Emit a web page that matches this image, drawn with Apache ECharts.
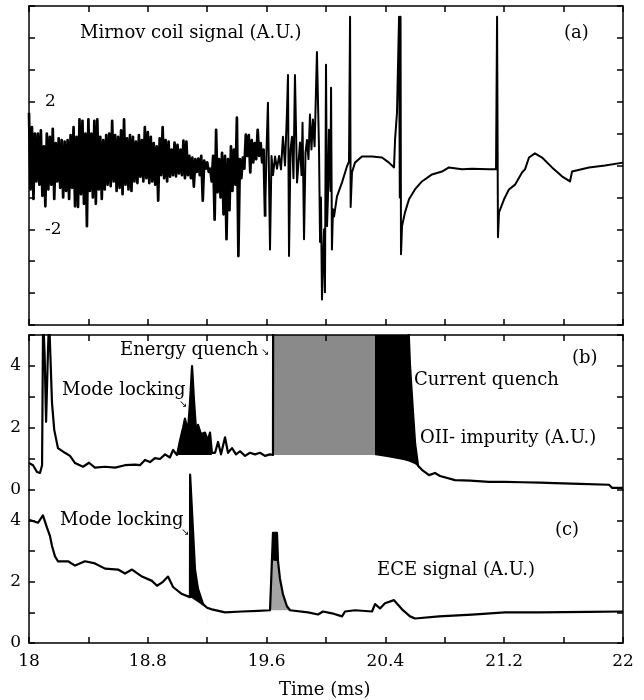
<!DOCTYPE html>
<html>
<head>
<meta charset="utf-8">
<script src="https://cdn.jsdelivr.net/npm/echarts@6/dist/echarts.min.js"></script>
<style>
html,body{margin:0;padding:0;background:#fff;}
#paint{width:644px;height:700px;}
</style>
</head>
<body>
<div id="paint"></div>
<script>
// (a) Mirnov coil: dense part sampled every 0.01 ms from 18.00 ms
var mirnovStart = 18.0;
var mirnovStep = 0.01;
var mirnovNoise = [
  1.65,-0.75,1.2,-1.05,1.0,-0.5,1.0,-0.6,1.1,-0.95,
  0.6,-1.28,1.0,-0.75,0.9,-0.6,1.15,-1.05,0.7,-0.5,
  0.85,-0.7,0.8,-1.0,0.75,-0.8,0.8,-1.05,0.95,-0.7,
  1.2,-1.28,0.9,-1.3,1.45,-0.9,1.4,-1.2,1.0,-1.9,
  1.45,-0.8,1.0,-1.0,1.4,-1.2,1.45,-0.75,0.9,-1.05,
  0.8,-0.75,0.95,-0.6,1.0,-0.65,1.4,-0.5,0.95,-0.8,
  0.9,-0.7,1.1,-0.9,1.45,-0.6,0.85,-0.75,0.95,-0.8,
  0.9,-0.5,0.75,-0.55,0.95,-0.35,0.8,-0.5,1.2,-0.4,
  1.05,-0.55,0.9,-0.5,0.7,-0.6,0.6,-1.1,0.85,-0.3,
  1.2,-0.4,0.8,-0.5,0.75,-0.35,0.5,-0.3,0.72,-0.34,
  0.65,-0.25,0.5,-0.3,0.78,-0.4,0.75,-0.3,0.3,-0.4,
  0.25,-0.66,0.2,-0.2,0.22,-0.3,0.3,-1.1,0.15,-0.1,
  0.1,-0.2,-0.1,-0.5,0.3,-1.7,1.12,-0.84,0.2,-1.0,
  0.4,-1.53,0.3,-2.31,0.2,-1.4,0.6,-0.8,0.5,-0.6,
  1.5,-2.84,0.2,-0.4,0.25,-0.1,0.97,0.3,0.95,-0.22,
  0.8,0.1,0.7,0.2,1.12,0.3,0.7,0.1,0.5,-1.6
];
// (a) spikes and relaxation, [time, value]
var mirnovTail = [
  [19.599,0.4],[19.609,1.97],[19.623,-2.63],[19.633,0.3],[19.643,-0.3],[19.657,0.28],[19.670,-0.1],
  [19.684,0.3],[19.697,-0.12],[19.710,0.9],[19.724,0.0],[19.737,1.65],[19.744,2.84],[19.751,-2.84],
  [19.761,0.5],[19.771,0.9],[19.781,-0.4],[19.791,2.84],[19.805,-0.53],[19.825,0.72],[19.835,-0.3],
  [19.842,1.34],[19.852,-2.31],[19.862,0.4],[19.872,0.8],[19.882,0.2],[19.892,1.6],[19.902,0.5],
  [19.912,1.44],[19.923,0.6],[19.929,1.65],[19.939,3.56],[19.946,3.56],[19.953,0.5],[19.960,-2.4],
  [19.966,-1.0],[19.973,-4.2],[19.980,-3.0],[19.987,-2.0],[19.993,-3.97],[20.000,3.16],[20.007,-1.9],
  [20.013,-1.0],[20.020,1.12],[20.030,-0.8],[20.034,2.44],[20.040,-2.63],[20.047,-1.37],[20.054,-1.6],
  [20.074,-0.97],[20.108,-0.53],[20.141,-0.03],[20.155,0.12],[20.162,4.66],[20.166,-1.3],[20.175,-0.22],
  [20.195,0.09],[20.242,0.28],[20.310,0.28],[20.377,0.25],[20.424,0.09],[20.458,-0.06],[20.465,0.81],
  [20.478,1.65],[20.492,4.66],[20.497,-1.0],[20.502,4.66],[20.505,-2.78],[20.512,-1.9],[20.532,-1.47],
  [20.559,-1.06],[20.599,-0.75],[20.646,-0.5],[20.714,-0.28],[20.781,-0.19],[20.828,-0.06],[20.916,-0.12],
  [20.983,-0.1],[21.098,-0.12],[21.145,-0.12],[21.152,4.66],[21.158,-2.25],[21.165,-1.47],[21.199,-1.06],
  [21.232,-0.75],[21.273,-0.6],[21.320,-0.22],[21.340,-0.12],[21.367,0.25],[21.407,0.38],[21.455,0.25],
  [21.522,-0.06],[21.589,-0.34],[21.643,-0.5],[21.657,-0.19],[21.771,-0.06],[21.879,0.0],[22.0,0.09]
];

// (b) OII impurity
var oiiTrace = [
  [18.0,0.87],[18.027,0.8],[18.054,0.58],[18.074,0.55],[18.088,0.8],[18.095,5.6],[18.105,4.4],[18.115,2.2],
  [18.125,4.0],[18.135,5.6],[18.155,2.8],[18.17,1.94],[18.195,1.35],[18.242,1.2],[18.276,1.1],[18.31,0.87],
  [18.364,0.75],[18.404,0.88],[18.444,0.72],[18.512,0.75],[18.58,0.72],[18.646,0.8],[18.714,0.82],
  [18.747,0.8],[18.781,0.97],[18.815,0.9],[18.848,1.03],[18.882,1.0],[18.916,1.15],[18.949,1.05],
  [18.97,1.29],[18.997,1.13],
  [19.017,1.6],[19.037,2.0],[19.05,2.3],[19.07,1.9],[19.084,2.8],[19.098,4.0],[19.111,2.9],[19.125,1.9],
  [19.138,2.1],[19.158,1.8],[19.185,1.85],[19.205,1.6],[19.219,1.85],[19.232,1.2],
  [19.253,1.2],[19.273,1.55],[19.293,1.15],[19.32,1.7],[19.34,1.2],[19.367,1.35],[19.394,1.15],
  [19.421,1.25],[19.455,1.1],[19.488,1.2],[19.522,1.15],[19.556,1.2],[19.589,1.1],[19.623,1.15],
  [19.643,1.13],[19.644,5.6],[20.552,5.6],[20.566,4.0],[20.586,2.5],[20.6,1.5],[20.62,0.78],
  [20.646,0.65],[20.694,0.48],[20.734,0.55],[20.768,0.45],[20.869,0.32],[20.97,0.3],[21.098,0.26],
  [21.205,0.26],[21.32,0.25],[21.44,0.24],[21.542,0.22],[21.71,0.2],[21.906,0.17],[21.926,0.07],[22.0,0.07]
];
var modeLockB = [
  [18.997,1.13],[19.017,1.6],[19.037,2.0],[19.05,2.3],[19.07,1.9],[19.084,2.8],[19.098,4.0],[19.111,2.9],
  [19.125,1.9],[19.138,2.1],[19.158,1.8],[19.185,1.85],[19.205,1.6],[19.219,1.85],[19.232,1.13]
];
var modeLockBase = 1.13;
var energyQuench = [[19.643,5.6],[20.33,5.6]];
var energyQuenchBase = 1.13;
var currentQuenchTop = [[20.33,5.6],[20.552,5.6],[20.566,4.0],[20.586,2.5],[20.6,1.5],[20.62,0.78]];
var currentQuenchLow = [[20.325,1.13],[20.42,1.06],[20.52,0.97],[20.552,0.93],[20.566,0.9],[20.586,0.86],[20.6,0.83],[20.62,0.76],[20.632,0.7]];

// (c) ECE signal
var eceTrace = [
  [18.0,4.03],[18.061,3.93],[18.094,4.17],[18.121,3.77],[18.141,3.5],[18.155,3.17],[18.175,2.83],
  [18.195,2.67],[18.263,2.67],[18.31,2.53],[18.377,2.67],[18.444,2.6],[18.512,2.43],[18.6,2.4],
  [18.646,2.27],[18.694,2.4],[18.761,2.17],[18.828,2.03],[18.862,1.87],[18.902,2.0],[18.936,2.17],
  [18.97,1.83],[19.03,1.6],[19.084,1.5],[19.085,5.5],[19.098,5.5],[19.118,2.4],[19.138,1.77],
  [19.172,1.27],[19.199,1.15],[19.232,1.1],[19.32,1.0],[19.434,1.03],[19.542,1.05],[19.623,1.07],
  [19.643,3.6],[19.67,3.6],[19.677,2.67],[19.69,2.1],[19.71,1.6],[19.737,1.2],[19.758,1.07],
  [19.879,1.0],[19.946,0.93],[19.98,1.03],[20.04,0.97],[20.108,0.87],[20.128,1.03],[20.195,1.07],
  [20.31,1.03],[20.33,1.27],[20.364,1.13],[20.397,1.3],[20.458,1.4],[20.512,1.1],[20.566,0.87],
  [20.6,0.8],[20.761,0.87],[20.983,0.93],[21.205,1.0],[21.434,1.0],[21.771,1.02],[22.0,1.03]
];
var eceSpikeTop = [[19.084,1.5],[19.085,5.5],[19.098,5.5],[19.118,2.4],[19.138,1.77],[19.172,1.27],[19.199,1.15]];
var eceSpikeLow = [[19.08,1.5],[19.098,1.46],[19.118,1.4],[19.138,1.33],[19.172,1.22],[19.199,1.14],[19.21,1.1]];
var eceSpike2 = [[19.623,1.07],[19.643,3.6],[19.67,3.6],[19.677,2.67],[19.69,2.1],[19.71,1.6],[19.737,1.2],[19.758,1.07]];
var eceSpike2Base = 1.07;
var eceSpike2Cap = [[19.636,2.7],[19.643,3.6],[19.67,3.6],[19.677,2.67]];
var eceSpike2CapBase = 2.7;

var FONT = 'DejaVu Serif';

$paint();

function $paint(){
    var chart = echarts.init(document.getElementById('paint'), null, {renderer:'canvas'});

    var noise = [];
    for(var i=0;i<mirnovNoise.length;i++){
        noise.push([+(mirnovStart + i*mirnovStep).toFixed(3), mirnovNoise[i]]);
    }
    var tail = [noise[noise.length-1]].concat(mirnovTail);

    var option = {
        animation:false,
        backgroundColor:'#fff',
        grid:[
            {left:29, top:6, width:594, height:319},
            {left:29, top:335, width:594, height:155},
            {left:29, top:490, width:594, height:153}
        ],
        xAxis:[
            xAxis(0,'bottom',false,true),
            xAxis(0,'top',false,true),
            xAxis(1,'top',false,true),
            xAxis(2,'bottom',true,true)
        ],
        yAxis:[
            yAxis(0,'left',-5,5,function(v){ return (v==2||v==-2) ? String(v) : ''; },true),
            yAxis(0,'right',-5,5,null),
            yAxis(1,'left',0,5,function(v){ return (v%2==0 && v<5) ? String(v) : ''; },false),
            yAxis(1,'right',0,5,null),
            yAxis(2,'left',0,5,function(v){ return (v%2==0 && v<5) ? String(v) : ''; },false),
            yAxis(2,'right',0,5,null)
        ],
        series:[
            line(noise,0,0,{width:2.7}),
            line(tail,0,0,{width:2}),

            area(energyQuench,2,2,'#8a8a8a',energyQuenchBase),
            area(currentQuenchTop,2,2,'#000','start'),
            area(currentQuenchLow,2,2,'#fff','start'),
            area(modeLockB,2,2,'#000',modeLockBase),
            line(oiiTrace,2,2,{width:2.2}),

            area(eceSpikeTop,3,4,'#000','start',true),
            area(eceSpikeLow,3,4,'#fff','start'),
            area(eceSpike2,3,4,'#a4a4a4',eceSpike2Base),
            area(eceSpike2Cap,3,4,'#000',eceSpike2CapBase),
            line(eceTrace,3,4,{width:2.2,clip:false})
        ],
        graphic:[
            label('Mirnov coil signal (A.U.)',80,33,18),
            label('(a)',564,33,18),
            label('Energy quench',120,350,18),
            arrow(261,352),
            label('Mode locking',62,390,18),
            arrow(179,404),
            label('(b)',572,358,18),
            label('Current quench',414,380,18),
            label('OII- impurity (A.U.)',420,438,18),
            label('Mode locking',60,520,18),
            arrow(181,532),
            label('(c)',555,530,18),
            label('ECE signal (A.U.)',377,570,18),
            label('Time (ms)',279,690,18)
        ]
    };

    chart.setOption(option);
}

function xAxis(grid,pos,labels,line){
    return {
        type:'value', gridIndex:grid, position:pos, min:18, max:22, interval:0.4, z:10,
        axisLine:{show:line, onZero:false, lineStyle:{color:'#000', width:1.5}},
        axisTick:{inside:true, length:6, lineStyle:{color:'#000', width:1.5}},
        axisLabel:{show:labels, color:'#000', fontFamily:FONT, fontSize:17, margin:10,
            formatter:function(v){
                var k = Math.round(v*10) - 180;
                return k%8==0 ? String(+v.toFixed(1)) : '';
            }},
        splitLine:{show:false}
    };
}

function yAxis(grid,pos,min,max,fmt,inside){
    return {
        type:'value', gridIndex:grid, position:pos, min:min, max:max, interval:1, z:10,
        axisLine:{show:true, onZero:false, lineStyle:{color:'#000', width:1.5}},
        axisTick:{inside:true, length:6, lineStyle:{color:'#000', width:1.5}},
        axisLabel:{show:!!fmt, inside:!!inside, margin:inside ? 16 : 8, color:'#000', fontFamily:FONT, fontSize:17,
            formatter:fmt || ''},
        splitLine:{show:false}
    };
}

function line(data,xi,yi,o){
    return {
        type:'line', xAxisIndex:xi, yAxisIndex:yi, data:data, symbol:'none', z:5,
        clip:o.clip !== false,
        lineStyle:{color:'#000', width:o.width, join:'round'}
    };
}

function area(data,xi,yi,color,origin,noclip){
    return {
        type:'line', xAxisIndex:xi, yAxisIndex:yi, data:data, symbol:'none', z:3,
        clip:!noclip,
        lineStyle:{width:0, opacity:0},
        areaStyle:{color:color, opacity:1, origin:origin}
    };
}

function label(text,x,y,size){
    return {type:'text', x:x, y:y, z:20,
        style:{text:text, fontFamily:FONT, fontSize:size, fill:'#000', verticalAlign:'middle'}};
}

function arrow(x,y){
    return {type:'text', x:x, y:y, z:20,
        style:{text:'\u2198', fontFamily:'DejaVu Sans', fontSize:10, fill:'#000', verticalAlign:'middle'}};
}
</script>
</body>
</html>
